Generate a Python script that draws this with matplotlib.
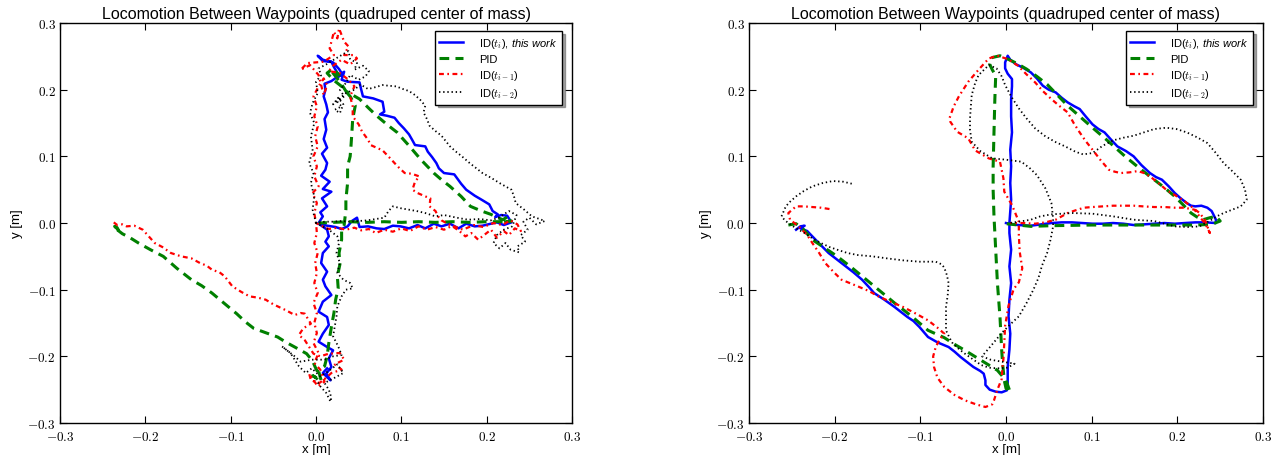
"""
Locomotion between waypoints: quadruped centre-of-mass traces, two runs side by side.
"""
import matplotlib
matplotlib.use("Agg")
import matplotlib.pyplot as plt
import numpy as np

plt.rcParams["font.family"] = ["Liberation Sans", "DejaVu Sans"]
plt.rcParams["mathtext.fontset"] = "custom"
plt.rcParams["mathtext.rm"] = "cmr10"
plt.rcParams["mathtext.it"] = "cmmi10"
plt.rcParams["mathtext.sf"] = "Liberation Sans:italic"
plt.rcParams["mathtext.fallback"] = "cm"
plt.rcParams["lines.scale_dashes"] = False
plt.rcParams["axes.unicode_minus"] = True

TITLE = "Locomotion Between Waypoints (quadruped center of mass)"
TICKS = [-0.3, -0.2, -0.1, 0.0, 0.1, 0.2, 0.3]
LABELS = [r"ID($t_i$), $\mathsf{this\ work}$", "PID", r"ID($t_{i-1}$)", r"ID($t_{i-2}$)"]

# ---- left run (x, y) in metres --------------------------------------------
left_ti = np.array([
    (0.003, 0.000), (0.008, 0.010), (0.005, 0.016), (0.013, 0.025), (0.007, 0.037),
    (0.018, 0.047), (0.008, 0.051), (0.016, 0.062), (0.006, 0.071), (0.011, 0.080),
    (0.013, 0.090), (0.007, 0.104), (0.013, 0.113), (0.009, 0.126), (0.012, 0.140),
    (0.010, 0.156), (0.014, 0.166), (0.012, 0.178), (0.009, 0.190), (0.011, 0.200),
    (0.010, 0.209), (0.018, 0.213), (0.027, 0.221), (0.021, 0.234), (0.018, 0.242),
    (0.008, 0.243), (0.002, 0.251), (0.008, 0.245), (0.020, 0.241), (0.027, 0.231),
    (0.031, 0.223), (0.024, 0.218), (0.033, 0.227), (0.030, 0.215), (0.037, 0.212),
    (0.051, 0.211), (0.053, 0.200), (0.055, 0.190), (0.067, 0.187), (0.078, 0.182),
    (0.080, 0.167), (0.075, 0.163), (0.083, 0.161), (0.092, 0.158), (0.097, 0.150),
    (0.103, 0.142), (0.109, 0.133), (0.113, 0.124), (0.116, 0.117), (0.128, 0.115),
    (0.131, 0.107), (0.136, 0.099), (0.141, 0.090), (0.144, 0.082), (0.150, 0.075),
    (0.162, 0.073), (0.166, 0.066), (0.170, 0.059), (0.176, 0.050), (0.186, 0.041),
    (0.194, 0.035), (0.203, 0.028), (0.207, 0.018), (0.213, 0.013), (0.210, 0.009),
    (0.217, 0.012), (0.224, 0.011), (0.229, 0.001), (0.220, -0.003), (0.212, 0.001),
    (0.205, -0.001), (0.195, -0.004), (0.186, -0.005), (0.176, -0.001), (0.167, -0.008),
    (0.157, -0.001), (0.147, -0.005), (0.138, -0.001), (0.128, -0.008), (0.119, -0.003),
    (0.109, -0.008), (0.099, -0.005), (0.090, -0.004), (0.080, -0.009), (0.071, -0.008),
    (0.061, -0.005), (0.051, -0.006), (0.048, 0.008), (0.042, 0.003), (0.037, -0.005),
    (0.030, -0.009), (0.023, -0.006), (0.013, -0.004), (0.003, -0.001), (0.013, -0.010),
    (0.015, -0.020), (0.011, -0.028), (0.015, -0.035), (0.008, -0.045), (0.006, -0.060),
    (0.013, -0.073), (0.008, -0.085), (0.011, -0.095), (0.018, -0.108), (0.008, -0.118),
    (0.003, -0.133), (0.013, -0.141), (0.015, -0.153), (0.008, -0.166), (0.003, -0.178),
    (0.013, -0.186), (0.020, -0.191), (0.015, -0.203), (0.018, -0.216), (0.012, -0.226),
    (0.017, -0.236), (0.008, -0.225), (0.013, -0.218),
])

left_pid = np.array([
    (-0.232, -0.008), (-0.236, -0.005), (-0.229, -0.013), (-0.233, -0.010), (-0.227, -0.016),
    (-0.218, -0.022), (-0.208, -0.030), (-0.194, -0.040), (-0.179, -0.050), (-0.163, -0.068),
    (-0.146, -0.085), (-0.134, -0.094), (-0.122, -0.105), (-0.108, -0.120), (-0.093, -0.136),
    (-0.083, -0.148), (-0.073, -0.158), (-0.058, -0.165), (-0.045, -0.171), (-0.035, -0.179),
    (-0.025, -0.186), (-0.011, -0.196), (-0.004, -0.207), (-0.001, -0.216), (0.003, -0.226),
    (0.001, -0.233), (-0.004, -0.229), (0.006, -0.236), (0.003, -0.222), (0.010, -0.215),
    (0.013, -0.200), (0.015, -0.180), (0.018, -0.156), (0.021, -0.135), (0.023, -0.115),
    (0.026, -0.098), (0.025, -0.080), (0.028, -0.062), (0.027, -0.045), (0.030, -0.025),
    (0.030, -0.010), (0.033, -0.003), (0.035, 0.020), (0.035, 0.035), (0.037, 0.060),
    (0.037, 0.085), (0.040, 0.100), (0.041, 0.116), (0.042, 0.135), (0.043, 0.156),
    (0.046, 0.176), (0.040, 0.190), (0.030, 0.205), (0.020, 0.215), (0.013, 0.225),
    (0.020, 0.232), (0.027, 0.222), (0.018, 0.228), (0.028, 0.212), (0.035, 0.198),
    (0.051, 0.186), (0.062, 0.172), (0.071, 0.161), (0.083, 0.148), (0.095, 0.136),
    (0.109, 0.116), (0.123, 0.095), (0.138, 0.075), (0.147, 0.065), (0.157, 0.055),
    (0.170, 0.040), (0.181, 0.025), (0.194, 0.018), (0.205, 0.013), (0.213, 0.008),
    (0.219, 0.005), (0.225, 0.010), (0.222, 0.002), (0.229, 0.003), (0.215, 0.002),
    (0.200, 0.002), (0.180, 0.001), (0.160, 0.002), (0.140, 0.001), (0.120, 0.002),
    (0.100, 0.001), (0.080, 0.002), (0.060, 0.001), (0.040, 0.002), (0.020, 0.001),
    (0.003, 0.000),
])

left_tm1 = np.array([
    (-0.237, 0.001), (-0.233, -0.003), (-0.227, -0.002), (-0.222, -0.005), (-0.213, -0.004),
    (-0.203, -0.010), (-0.196, -0.020), (-0.189, -0.030), (-0.180, -0.036), (-0.170, -0.045),
    (-0.158, -0.050), (-0.146, -0.053), (-0.136, -0.060), (-0.128, -0.064), (-0.122, -0.070),
    (-0.113, -0.074), (-0.107, -0.080), (-0.098, -0.095), (-0.088, -0.103), (-0.078, -0.110),
    (-0.068, -0.112), (-0.059, -0.115), (-0.050, -0.122), (-0.045, -0.125), (-0.035, -0.131),
    (-0.025, -0.138), (-0.018, -0.135), (-0.013, -0.136), (-0.009, -0.145), (-0.006, -0.151),
    (-0.015, -0.158), (-0.020, -0.168), (-0.013, -0.176), (-0.008, -0.186), (-0.003, -0.196),
    (0.005, -0.200), (0.015, -0.196), (0.028, -0.195), (0.033, -0.205), (0.022, -0.212),
    (0.030, -0.220), (0.018, -0.225), (0.012, -0.232), (0.004, -0.240), (-0.006, -0.236),
    (-0.008, -0.226), (0.002, -0.245), (0.010, -0.238), (0.005, -0.220), (-0.002, -0.210),
    (0.003, -0.195), (-0.003, -0.180), (0.001, -0.165), (-0.002, -0.150), (0.001, -0.135),
    (-0.003, -0.120), (0.002, -0.105), (-0.002, -0.090), (0.001, -0.075), (-0.001, -0.060),
    (0.002, -0.045), (-0.002, -0.030), (0.001, -0.015), (0.000, 0.000), (-0.002, 0.015),
    (0.001, 0.030), (-0.004, 0.045), (0.003, 0.055), (-0.002, 0.070), (0.001, 0.085),
    (-0.003, 0.100), (0.002, 0.115), (-0.001, 0.130), (0.002, 0.145), (-0.002, 0.160),
    (0.001, 0.175), (-0.003, 0.190), (0.003, 0.205), (0.009, 0.217), (0.013, 0.207),
    (0.009, 0.192), (0.003, 0.222), (-0.007, 0.237), (-0.018, 0.230), (-0.010, 0.240),
    (0.009, 0.242), (0.021, 0.252), (0.016, 0.262), (0.021, 0.287), (0.025, 0.277),
    (0.027, 0.292), (0.030, 0.282), (0.033, 0.272), (0.038, 0.265), (0.033, 0.252),
    (0.044, 0.252), (0.048, 0.247), (0.040, 0.238), (0.030, 0.245), (0.020, 0.236),
    (0.015, 0.228), (0.028, 0.225), (0.038, 0.215), (0.045, 0.205), (0.040, 0.190),
    (0.043, 0.175), (0.043, 0.160), (0.050, 0.148), (0.054, 0.137), (0.061, 0.125),
    (0.064, 0.117), (0.078, 0.109), (0.087, 0.097), (0.092, 0.090), (0.098, 0.082),
    (0.104, 0.075), (0.112, 0.074), (0.121, 0.070), (0.116, 0.062), (0.113, 0.050),
    (0.119, 0.045), (0.128, 0.040), (0.134, 0.037), (0.133, 0.025), (0.140, 0.018),
    (0.143, 0.010), (0.147, 0.004), (0.160, -0.005), (0.168, -0.012), (0.175, -0.020),
    (0.182, -0.015), (0.190, -0.025), (0.197, -0.018), (0.205, -0.010), (0.212, -0.022),
    (0.220, -0.012), (0.226, -0.018), (0.233, -0.008), (0.240, -0.012), (0.236, -0.002),
    (0.228, 0.004), (0.218, -0.003), (0.208, 0.000), (0.196, -0.006), (0.185, -0.003),
    (0.172, -0.010), (0.160, -0.004), (0.150, -0.010), (0.140, -0.006), (0.130, -0.010),
    (0.120, -0.005), (0.110, -0.012), (0.100, -0.008), (0.090, -0.013), (0.080, -0.010),
    (0.070, -0.015), (0.062, -0.009), (0.053, -0.011), (0.045, -0.007), (0.035, -0.010),
    (0.025, -0.007), (0.015, -0.009), (0.006, -0.004), (0.000, 0.000),
])

left_tm2 = np.array([
    (0.000, 0.000), (-0.004, 0.020), (-0.002, 0.040), (-0.006, 0.060), (-0.003, 0.075),
    (-0.008, 0.090), (-0.004, 0.110), (-0.006, 0.130), (-0.002, 0.150), (-0.007, 0.165),
    (-0.004, 0.180), (0.002, 0.195), (0.000, 0.212), (0.006, 0.222), (0.003, 0.232),
    (0.012, 0.238), (0.022, 0.246), (0.030, 0.252), (0.038, 0.258), (0.040, 0.246),
    (0.048, 0.240), (0.045, 0.230), (0.055, 0.236), (0.062, 0.228), (0.058, 0.220),
    (0.050, 0.215), (0.040, 0.222), (0.035, 0.210), (0.028, 0.200), (0.033, 0.190),
    (0.025, 0.182), (0.030, 0.175), (0.022, 0.170), (0.028, 0.165), (0.032, 0.178),
    (0.026, 0.188), (0.020, 0.178), (0.035, 0.195), (0.045, 0.200), (0.052, 0.208),
    (0.061, 0.201), (0.070, 0.204), (0.078, 0.207), (0.085, 0.206), (0.094, 0.205),
    (0.102, 0.201), (0.109, 0.198), (0.116, 0.192), (0.122, 0.185), (0.128, 0.176),
    (0.126, 0.166), (0.130, 0.156), (0.133, 0.146), (0.140, 0.138), (0.147, 0.131),
    (0.152, 0.123), (0.157, 0.115), (0.165, 0.106), (0.171, 0.100), (0.180, 0.090),
    (0.188, 0.082), (0.195, 0.075), (0.205, 0.068), (0.215, 0.060), (0.222, 0.055),
    (0.229, 0.050), (0.232, 0.040), (0.234, 0.030), (0.244, 0.020), (0.253, 0.010),
    (0.262, 0.006), (0.268, 0.003), (0.258, -0.002), (0.250, 0.008), (0.243, 0.002),
    (0.248, -0.010), (0.240, -0.018), (0.245, -0.028), (0.236, -0.035), (0.238, -0.044),
    (0.228, -0.040), (0.222, -0.030), (0.215, -0.038), (0.208, -0.030), (0.212, -0.018),
    (0.220, -0.010), (0.230, -0.005), (0.235, 0.012), (0.226, 0.018), (0.214, 0.008),
    (0.205, 0.004), (0.192, 0.006), (0.178, 0.005), (0.165, 0.008), (0.150, 0.012),
    (0.140, 0.010), (0.128, 0.015), (0.118, 0.018), (0.109, 0.020), (0.100, 0.022),
    (0.090, 0.025), (0.085, 0.018), (0.080, 0.008), (0.070, 0.006), (0.060, 0.004),
    (0.050, 0.003), (0.040, 0.002), (0.030, 0.003), (0.020, 0.002), (0.010, 0.002),
    (0.000, 0.000), (0.015, -0.010), (0.025, -0.020), (0.027, -0.030), (0.024, -0.045),
    (0.028, -0.060), (0.025, -0.075), (0.032, -0.085), (0.040, -0.090), (0.043, -0.098),
    (0.035, -0.100), (0.030, -0.110), (0.025, -0.125), (0.024, -0.140), (0.022, -0.155),
    (0.020, -0.170), (0.026, -0.185), (0.030, -0.198), (0.020, -0.200), (0.010, -0.205),
    (-0.005, -0.205), (-0.018, -0.208), (-0.025, -0.200), (-0.035, -0.190), (-0.040, -0.185),
    (-0.030, -0.195), (-0.020, -0.215), (-0.012, -0.225), (-0.005, -0.218), (0.005, -0.230),
    (0.015, -0.222), (0.025, -0.212), (0.032, -0.225), (0.022, -0.232), (0.010, -0.240),
    (0.015, -0.250), (0.018, -0.262), (0.017, -0.268), (0.012, -0.255), (0.005, -0.245),
    (0.000, -0.235),
])

# ---- right run -------------------------------------------------------------
right_ti = np.array([
    (-0.245, -0.010), (-0.240, -0.005), (-0.235, -0.004), (-0.240, -0.008), (-0.232, -0.012),
    (-0.226, -0.020), (-0.217, -0.032), (-0.207, -0.045), (-0.197, -0.055), (-0.187, -0.065),
    (-0.178, -0.074), (-0.168, -0.085), (-0.160, -0.096), (-0.154, -0.105), (-0.142, -0.115),
    (-0.130, -0.126), (-0.122, -0.134), (-0.115, -0.141), (-0.108, -0.147), (-0.101, -0.156),
    (-0.095, -0.165), (-0.091, -0.171), (-0.080, -0.179), (-0.067, -0.186), (-0.060, -0.193),
    (-0.053, -0.201), (-0.046, -0.208), (-0.038, -0.216), (-0.030, -0.222), (-0.026, -0.226),
    (-0.024, -0.236), (-0.024, -0.243), (-0.019, -0.250), (-0.012, -0.253), (-0.005, -0.254),
    (0.001, -0.251), (0.002, -0.240), (0.002, -0.216), (0.004, -0.190), (0.005, -0.166),
    (0.003, -0.140), (0.004, -0.115), (0.006, -0.090), (0.004, -0.065), (0.006, -0.040),
    (0.004, -0.015), (0.004, 0.000), (0.006, 0.035), (0.005, 0.060), (0.006, 0.085),
    (0.005, 0.110), (0.007, 0.136), (0.006, 0.160), (0.006, 0.186), (0.007, 0.205),
    (0.007, 0.216), (0.002, 0.224), (-0.001, 0.232), (-0.001, 0.241), (0.002, 0.251),
    (0.005, 0.245), (0.012, 0.238), (0.020, 0.233), (0.029, 0.226), (0.036, 0.217),
    (0.043, 0.206), (0.050, 0.200), (0.058, 0.196), (0.065, 0.188), (0.072, 0.181),
    (0.080, 0.175), (0.086, 0.171), (0.093, 0.160), (0.101, 0.148), (0.108, 0.141),
    (0.115, 0.136), (0.122, 0.126), (0.130, 0.115), (0.140, 0.108), (0.149, 0.100),
    (0.158, 0.087), (0.168, 0.075), (0.175, 0.069), (0.182, 0.065), (0.190, 0.055),
    (0.197, 0.045), (0.204, 0.037), (0.211, 0.030), (0.216, 0.026), (0.221, 0.025),
    (0.228, 0.026), (0.235, 0.023), (0.240, 0.018), (0.242, 0.013), (0.245, 0.005),
    (0.245, 0.000), (0.233, 0.001), (0.221, 0.001), (0.209, 0.000), (0.197, -0.001),
    (0.185, 0.000), (0.173, -0.001), (0.161, -0.002), (0.149, -0.003), (0.137, -0.001),
    (0.125, 0.000), (0.113, -0.001), (0.101, -0.001), (0.089, 0.000), (0.077, 0.001),
    (0.065, 0.001), (0.053, 0.000), (0.041, -0.002), (0.029, -0.004), (0.014, -0.003),
    (0.000, 0.000),
])

right_pid = np.array([
    (-0.254, -0.003), (-0.245, -0.001), (-0.236, -0.010), (-0.226, -0.025), (-0.212, -0.037),
    (-0.197, -0.050), (-0.180, -0.067), (-0.163, -0.085), (-0.147, -0.102), (-0.130, -0.120),
    (-0.110, -0.140), (-0.091, -0.161), (-0.072, -0.172), (-0.060, -0.182), (-0.048, -0.191),
    (-0.029, -0.206), (-0.010, -0.221), (0.000, -0.236), (0.005, -0.254), (0.000, -0.248),
    (-0.002, -0.236), (-0.004, -0.210), (-0.005, -0.191), (-0.007, -0.141), (-0.010, -0.090),
    (-0.012, -0.040), (-0.014, 0.010), (-0.015, 0.050), (-0.015, 0.085), (-0.014, 0.136),
    (-0.013, 0.186), (-0.012, 0.221), (-0.016, 0.230), (-0.019, 0.238), (-0.017, 0.248),
    (-0.007, 0.251), (0.002, 0.246), (0.012, 0.240), (0.024, 0.231), (0.036, 0.220),
    (0.048, 0.208), (0.060, 0.192), (0.072, 0.176), (0.086, 0.160), (0.101, 0.143),
    (0.120, 0.122), (0.139, 0.100), (0.156, 0.082), (0.173, 0.065), (0.185, 0.053),
    (0.197, 0.040), (0.207, 0.027), (0.216, 0.015), (0.223, 0.009), (0.230, 0.005),
    (0.238, 0.008), (0.245, 0.010), (0.250, 0.003), (0.240, -0.002), (0.221, -0.003),
    (0.185, -0.003), (0.149, -0.003), (0.100, -0.003), (0.053, -0.004), (0.029, -0.005),
    (0.000, -0.001),
])

right_tm1 = np.array([
    (-0.206, 0.021), (-0.216, 0.023), (-0.226, 0.024), (-0.236, 0.025), (-0.245, 0.025),
    (-0.254, 0.015), (-0.252, 0.005), (-0.242, -0.005), (-0.232, -0.018), (-0.226, -0.030),
    (-0.218, -0.045), (-0.211, -0.060), (-0.200, -0.075), (-0.192, -0.085), (-0.173, -0.095),
    (-0.160, -0.102), (-0.149, -0.110), (-0.135, -0.118), (-0.120, -0.126), (-0.105, -0.136),
    (-0.091, -0.146), (-0.080, -0.157), (-0.072, -0.166), (-0.078, -0.176), (-0.082, -0.186),
    (-0.085, -0.200), (-0.084, -0.216), (-0.080, -0.232), (-0.072, -0.246), (-0.060, -0.258),
    (-0.048, -0.266), (-0.035, -0.272), (-0.024, -0.276), (-0.016, -0.272), (-0.014, -0.266),
    (-0.010, -0.250), (-0.005, -0.234), (-0.004, -0.215), (-0.003, -0.204), (-0.002, -0.180),
    (-0.001, -0.154), (0.003, -0.124), (0.009, -0.099), (0.015, -0.089), (0.019, -0.068),
    (0.016, -0.043), (0.015, -0.018), (0.015, 0.002), (0.007, 0.027), (-0.002, 0.047),
    (-0.003, 0.067), (-0.007, 0.092), (-0.020, 0.097), (-0.036, 0.109), (-0.044, 0.127),
    (-0.057, 0.137), (-0.065, 0.152), (-0.066, 0.157), (-0.061, 0.175), (-0.055, 0.190),
    (-0.044, 0.212), (-0.032, 0.230), (-0.020, 0.247), (-0.010, 0.251), (0.002, 0.246),
    (0.014, 0.236), (0.024, 0.223), (0.034, 0.211), (0.043, 0.198), (0.053, 0.186),
    (0.062, 0.176), (0.072, 0.166), (0.079, 0.150), (0.086, 0.136), (0.093, 0.123),
    (0.101, 0.110), (0.110, 0.095), (0.120, 0.080), (0.127, 0.077), (0.134, 0.075),
    (0.144, 0.076), (0.154, 0.078), (0.161, 0.075), (0.168, 0.070), (0.178, 0.060),
    (0.187, 0.050), (0.197, 0.042), (0.206, 0.035), (0.216, 0.025), (0.226, 0.015),
    (0.232, 0.005), (0.235, -0.005), (0.238, -0.015), (0.233, -0.002), (0.220, 0.020),
    (0.208, 0.023), (0.197, 0.023), (0.185, 0.024), (0.173, 0.024), (0.160, 0.025),
    (0.149, 0.026), (0.137, 0.026), (0.125, 0.026), (0.113, 0.025), (0.101, 0.024),
    (0.091, 0.023), (0.081, 0.019), (0.072, 0.015), (0.065, 0.010), (0.058, 0.005),
    (0.046, 0.001), (0.034, -0.001), (0.020, 0.000), (0.005, 0.000),
])

right_tm2 = np.array([
    (-0.180, 0.059), (-0.190, 0.062), (-0.202, 0.063), (-0.214, 0.060), (-0.226, 0.055),
    (-0.236, 0.048), (-0.245, 0.040), (-0.252, 0.032), (-0.257, 0.025), (-0.262, 0.010),
    (-0.258, 0.004), (-0.254, 0.000), (-0.245, -0.008), (-0.235, -0.015), (-0.226, -0.023),
    (-0.216, -0.030), (-0.206, -0.036), (-0.197, -0.040), (-0.185, -0.045), (-0.173, -0.048),
    (-0.156, -0.050), (-0.139, -0.053), (-0.120, -0.056), (-0.101, -0.058), (-0.090, -0.058),
    (-0.082, -0.058), (-0.075, -0.062), (-0.072, -0.067), (-0.069, -0.078), (-0.067, -0.090),
    (-0.068, -0.108), (-0.070, -0.126), (-0.070, -0.145), (-0.070, -0.161), (-0.066, -0.172),
    (-0.062, -0.181), (-0.055, -0.189), (-0.048, -0.196), (-0.038, -0.205), (-0.029, -0.213),
    (-0.020, -0.217), (-0.010, -0.218), (0.002, -0.217), (0.010, -0.211), (-0.005, -0.208),
    (-0.018, -0.205), (-0.028, -0.200), (-0.018, -0.185), (-0.005, -0.165), (0.005, -0.152),
    (0.015, -0.140), (0.024, -0.120), (0.032, -0.100), (0.038, -0.082), (0.042, -0.064),
    (0.048, -0.045), (0.052, -0.025), (0.055, -0.005), (0.055, 0.007), (0.053, 0.030),
    (0.046, 0.052), (0.036, 0.072), (0.028, 0.082), (0.018, 0.092), (0.000, 0.095),
    (-0.016, 0.097), (-0.030, 0.108), (-0.040, 0.122), (-0.042, 0.140), (-0.042, 0.157),
    (-0.041, 0.175), (-0.040, 0.192), (-0.036, 0.210), (-0.032, 0.222), (-0.020, 0.237),
    (-0.011, 0.232), (-0.005, 0.220), (-0.001, 0.207), (0.006, 0.190), (0.015, 0.172),
    (0.024, 0.157), (0.034, 0.142), (0.045, 0.131), (0.057, 0.122), (0.069, 0.115),
    (0.081, 0.107), (0.090, 0.103), (0.101, 0.105), (0.113, 0.116), (0.125, 0.124),
    (0.137, 0.128), (0.149, 0.131), (0.161, 0.136), (0.173, 0.141), (0.187, 0.143),
    (0.199, 0.141), (0.211, 0.136), (0.224, 0.128), (0.235, 0.120), (0.245, 0.105),
    (0.254, 0.090), (0.264, 0.078), (0.274, 0.065), (0.279, 0.050), (0.281, 0.035),
    (0.274, 0.025), (0.264, 0.020), (0.254, 0.015), (0.246, 0.010), (0.240, 0.005),
    (0.233, 0.000), (0.226, -0.005), (0.212, -0.006), (0.197, -0.005), (0.185, -0.001),
    (0.173, 0.003), (0.160, 0.004), (0.149, 0.005), (0.125, 0.010), (0.101, 0.014),
    (0.077, 0.015), (0.053, 0.013), (0.040, 0.010), (0.029, 0.005), (0.015, 0.002),
    (0.004, 0.000),
])

STYLES = [
    dict(color="#0000ff", lw=1.8, linestyle="-"),
    dict(color="#008000", lw=2.2, linestyle=(0, (7, 4.5))),
    dict(color="#ff0000", lw=1.6, linestyle=(0, (3.5, 2.5, 1.2, 2.5))),
    dict(color="#000000", lw=1.3, linestyle=(0, (1, 2))),
]


def draw_panel(ax, series):
    for data, style, label in zip(series, STYLES, LABELS):
        ax.plot(data[:, 0], data[:, 1], label=label, **style)

    ax.set_xlim(-0.3, 0.3)
    ax.set_ylim(-0.3, 0.3)
    ax.set_xticks(TICKS)
    ax.set_yticks(TICKS)
    ax.set_xticklabels([f"${t:.1f}$" for t in TICKS], fontsize=9.5)
    ax.set_yticklabels([f"${t:.1f}$" for t in TICKS], fontsize=9.5)
    ax.tick_params(direction="in", top=True, right=True, length=5, width=0.8, pad=3)
    ax.tick_params(axis="x", pad=5)
    for sp in ax.spines.values():
        sp.set_linewidth(1.0)

    ax.set_xlabel("x [m]", fontsize=9.5, labelpad=0)
    ax.set_ylabel("y [m]", fontsize=9.5, labelpad=3)
    ax.set_title(TITLE, fontsize=11.5, pad=4)

    leg = ax.legend(
        loc="upper right", bbox_to_anchor=(0.981, 0.98), borderaxespad=0,
        fontsize=8, shadow=True, fancybox=False, framealpha=1,
        handlelength=2.1, handletextpad=1.5, labelspacing=0.38, borderpad=0.4,
    )
    leg.get_frame().set_edgecolor("black")
    leg.get_frame().set_linewidth(1.0)


fig = plt.figure(figsize=(12.82, 4.56), dpi=100)
ax_left = fig.add_axes([0.0468, 0.0702, 0.3994, 0.877])
ax_right = fig.add_axes([0.5842, 0.0702, 0.401, 0.877])

draw_panel(ax_left, [left_ti, left_pid, left_tm1, left_tm2])
draw_panel(ax_right, [right_ti, right_pid, right_tm1, right_tm2])

fig.savefig("out.png", dpi=100)
plt.close(fig)
